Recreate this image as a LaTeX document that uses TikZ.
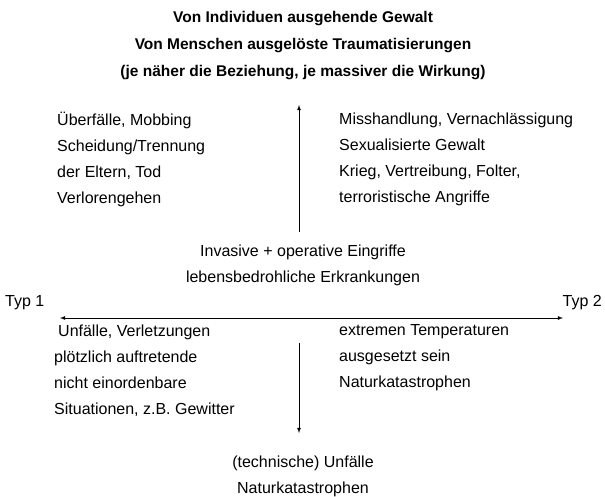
\documentclass[tikz,border=0pt]{standalone}
\usepackage{fontspec}
\setmainfont{Liberation Sans}
\usetikzlibrary{arrows}
\usetikzlibrary{positioning}

\tikzset{
  txt/.style={inner sep=0pt,align=left,font=\fontsize{16}{26}\selectfont},
  mid/.style={inner sep=0pt,align=center,font=\fontsize{16}{26}\selectfont},
  ttl/.style={inner sep=0pt,align=center,font=\fontsize{15.5}{27}\selectfont\bfseries}
}

\begin{document}
\begin{tikzpicture}[x=1pt,y=-1pt]
            \useasboundingbox (0,0) rectangle (605,497);
            % title
            \node[ttl] (title) at (303,46) {Von Individuen ausgehende Gewalt\\Von Menschen ausgelöste Traumatisierungen\\(je näher die Beziehung, je massiver die Wirkung)};
            % upper quadrants
            \node[txt,anchor=west] (ul) at (57,159) {Überfälle, Mobbing\\Scheidung/Trennung\\der Eltern, Tod\\Verlorengehen};
            \node[txt,anchor=west] (ur) at (339,159) {Misshandlung, Vernachlässigung\\Sexualisierte Gewalt\\Krieg, Vertreibung, Folter,\\terroristische Angriffe};
            \node[mid] (inv) at (303,265) {Invasive + operative Eingriffe\\lebensbedrohliche Erkrankungen};
            % axis ends
            \node[txt,anchor=west] (typa) at (5,303) {Typ 1};
            \node[txt,anchor=east] (typb) at (602,303) {Typ 2};
            % lower quadrants
            \node[txt,anchor=west] (ll) at (54,371) {\hspace{4pt}Unfälle, Verletzungen\\plötzlich auftretende\\nicht einordenbare\\Situationen, z.B. Gewitter};
            \node[txt,anchor=west] (lr) at (339,358) {extremen Temperaturen\\ausgesetzt sein\\Naturkatastrophen};
            \node[mid] (tech) at (303,476) {(technische) Unfälle\\Naturkatastrophen};
            % axes
            \coordinate (w) at (60,318);
            \coordinate (e) at (563,318);
            \coordinate (up0) at (299,232);
            \coordinate (up1) at (299,105);
            \coordinate (dn0) at (299,343);
            \coordinate (dn1) at (299,433);
            \draw [latex-latex,line width=0.8pt] (w) -- (e);
            \draw [-latex,line width=0.8pt] (up0) -- (up1);
            \draw [-latex,line width=0.8pt] (dn0) -- (dn1);
          \end{tikzpicture}
\end{document}
